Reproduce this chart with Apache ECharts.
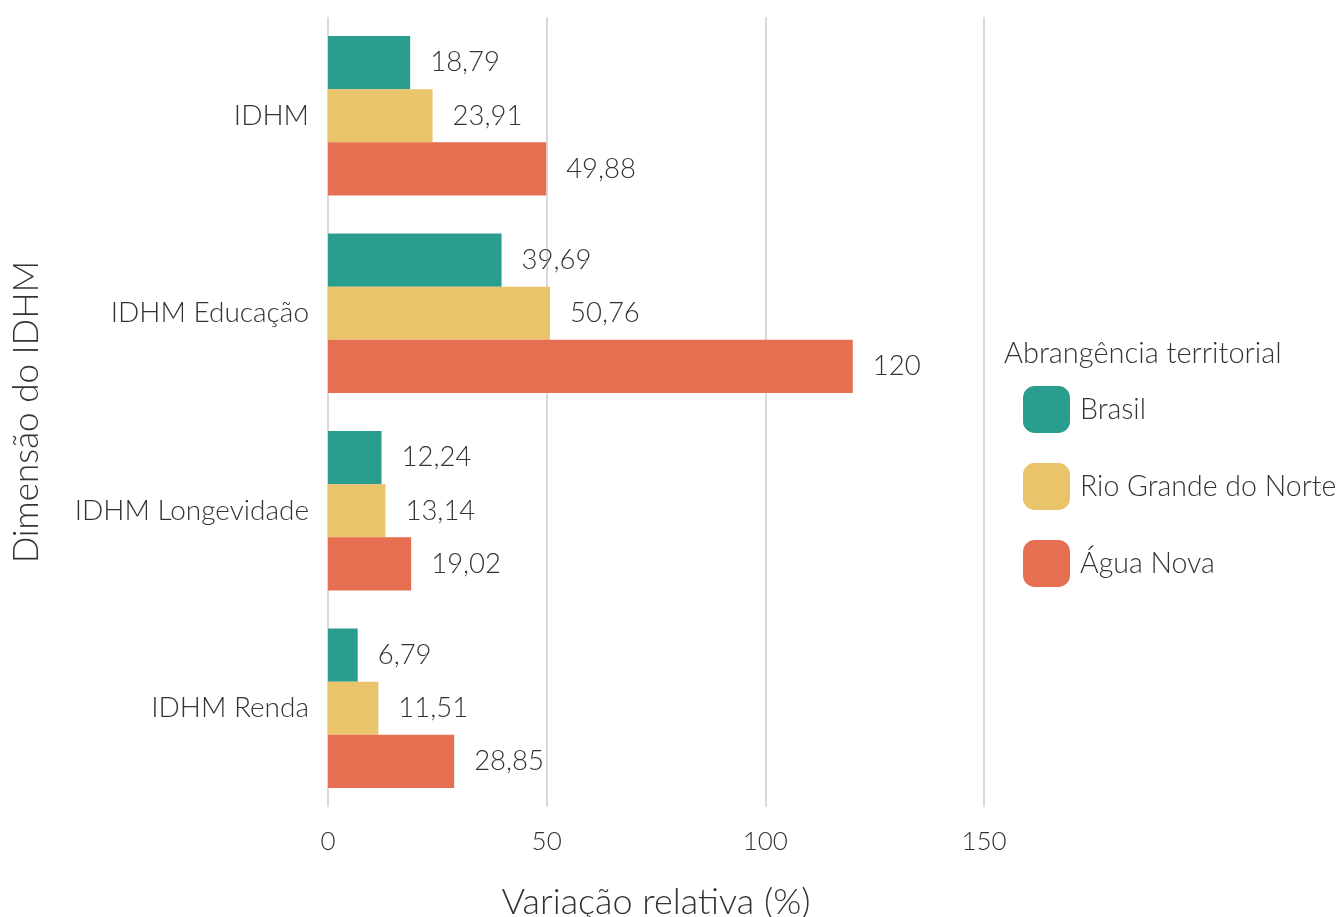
<!DOCTYPE html>
<html>
<head>
<meta charset="utf-8">
<script src="https://cdn.jsdelivr.net/npm/echarts@6/dist/echarts.min.js"></script>
<style>
  html, body { margin: 0; padding: 0; background: #fff; }
  #chart { width: 1340px; height: 917px; }
</style>
</head>
<body>
<div id="chart"></div>
<script>
// dados
const categorias = ['IDHM', 'IDHM Educação', 'IDHM Longevidade', 'IDHM Renda']
const brasil = [18.79, 39.69, 12.24, 6.79]
const rioGrandeDoNorte = [23.91, 50.76, 13.14, 11.51]
const aguaNova = [49.88, 120, 19.02, 28.85]
const nomesSeries = ['Brasil', 'Rio Grande do Norte', 'Água Nova']
const cores = ['#2a9d8f', '#e9c46a', '#e76f51']

const fonte = 'Lato'
const corTexto = '#333333'

const rotulo = {
  show: true,
  position: 'right',
  distance: 20,
  fontFamily: fonte,
  fontWeight: 300,
  fontSize: 27.5,
  color: corTexto,
  formatter: (p) => String(p.value).replace('.', ',')
}

const serie = (nome, dados, cor) => ({
  name: nome,
  type: 'bar',
  data: dados,
  barGap: 0,
  barCategoryGap: '19.3%',
  itemStyle: {color: cor},
  label: rotulo
})

const chart = echarts.init(document.getElementById('chart'))
chart.setOption({
  animation: false,
  textStyle: {fontFamily: fonte, fontWeight: 300},
  title: {
    text: 'Abrangência territorial',
    left: 999,
    top: 334,
    textStyle: {fontFamily: fonte, fontWeight: 300, fontSize: 29, color: corTexto}
  },
  legend: {
    orient: 'vertical',
    left: 1023,
    top: 386,
    padding: 0,
    icon: 'roundRect',
    itemWidth: 47,
    itemHeight: 47,
    itemGap: 30,
    data: nomesSeries,
    textStyle: {fontFamily: fonte, fontWeight: 300, fontSize: 28.5, color: corTexto, padding: [0, 0, 0, 5]}
  },
  grid: {left: 328, right: 356, top: 17, bottom: 110, outerBoundsMode: 'none', containLabel: false},
  xAxis: {
    type: 'value',
    min: 0,
    max: 150,
    interval: 50,
    name: 'Variação relativa (%)',
    nameLocation: 'middle',
    nameGap: 77,
    nameTextStyle: {fontFamily: fonte, fontWeight: 300, fontSize: 36, color: corTexto},
    axisLine: {show: false},
    axisTick: {show: false},
    axisLabel: {margin: 22, fontFamily: fonte, fontWeight: 300, fontSize: 26, color: corTexto},
    splitLine: {show: true, lineStyle: {color: '#d9d9d9', width: 2}}
  },
  yAxis: {
    type: 'category',
    data: categorias,
    inverse: true,
    name: 'Dimensão do IDHM',
    nameLocation: 'middle',
    nameGap: 284,
    nameTextStyle: {fontFamily: fonte, fontWeight: 300, fontSize: 35, color: corTexto},
    axisLine: {show: false},
    axisTick: {show: false},
    axisLabel: {margin: 19, fontFamily: fonte, fontWeight: 300, fontSize: 28, color: corTexto}
  },
  series: [
    serie(nomesSeries[0], brasil, cores[0]),
    serie(nomesSeries[1], rioGrandeDoNorte, cores[1]),
    serie(nomesSeries[2], aguaNova, cores[2])
  ]
})
</script>
</body>
</html>
